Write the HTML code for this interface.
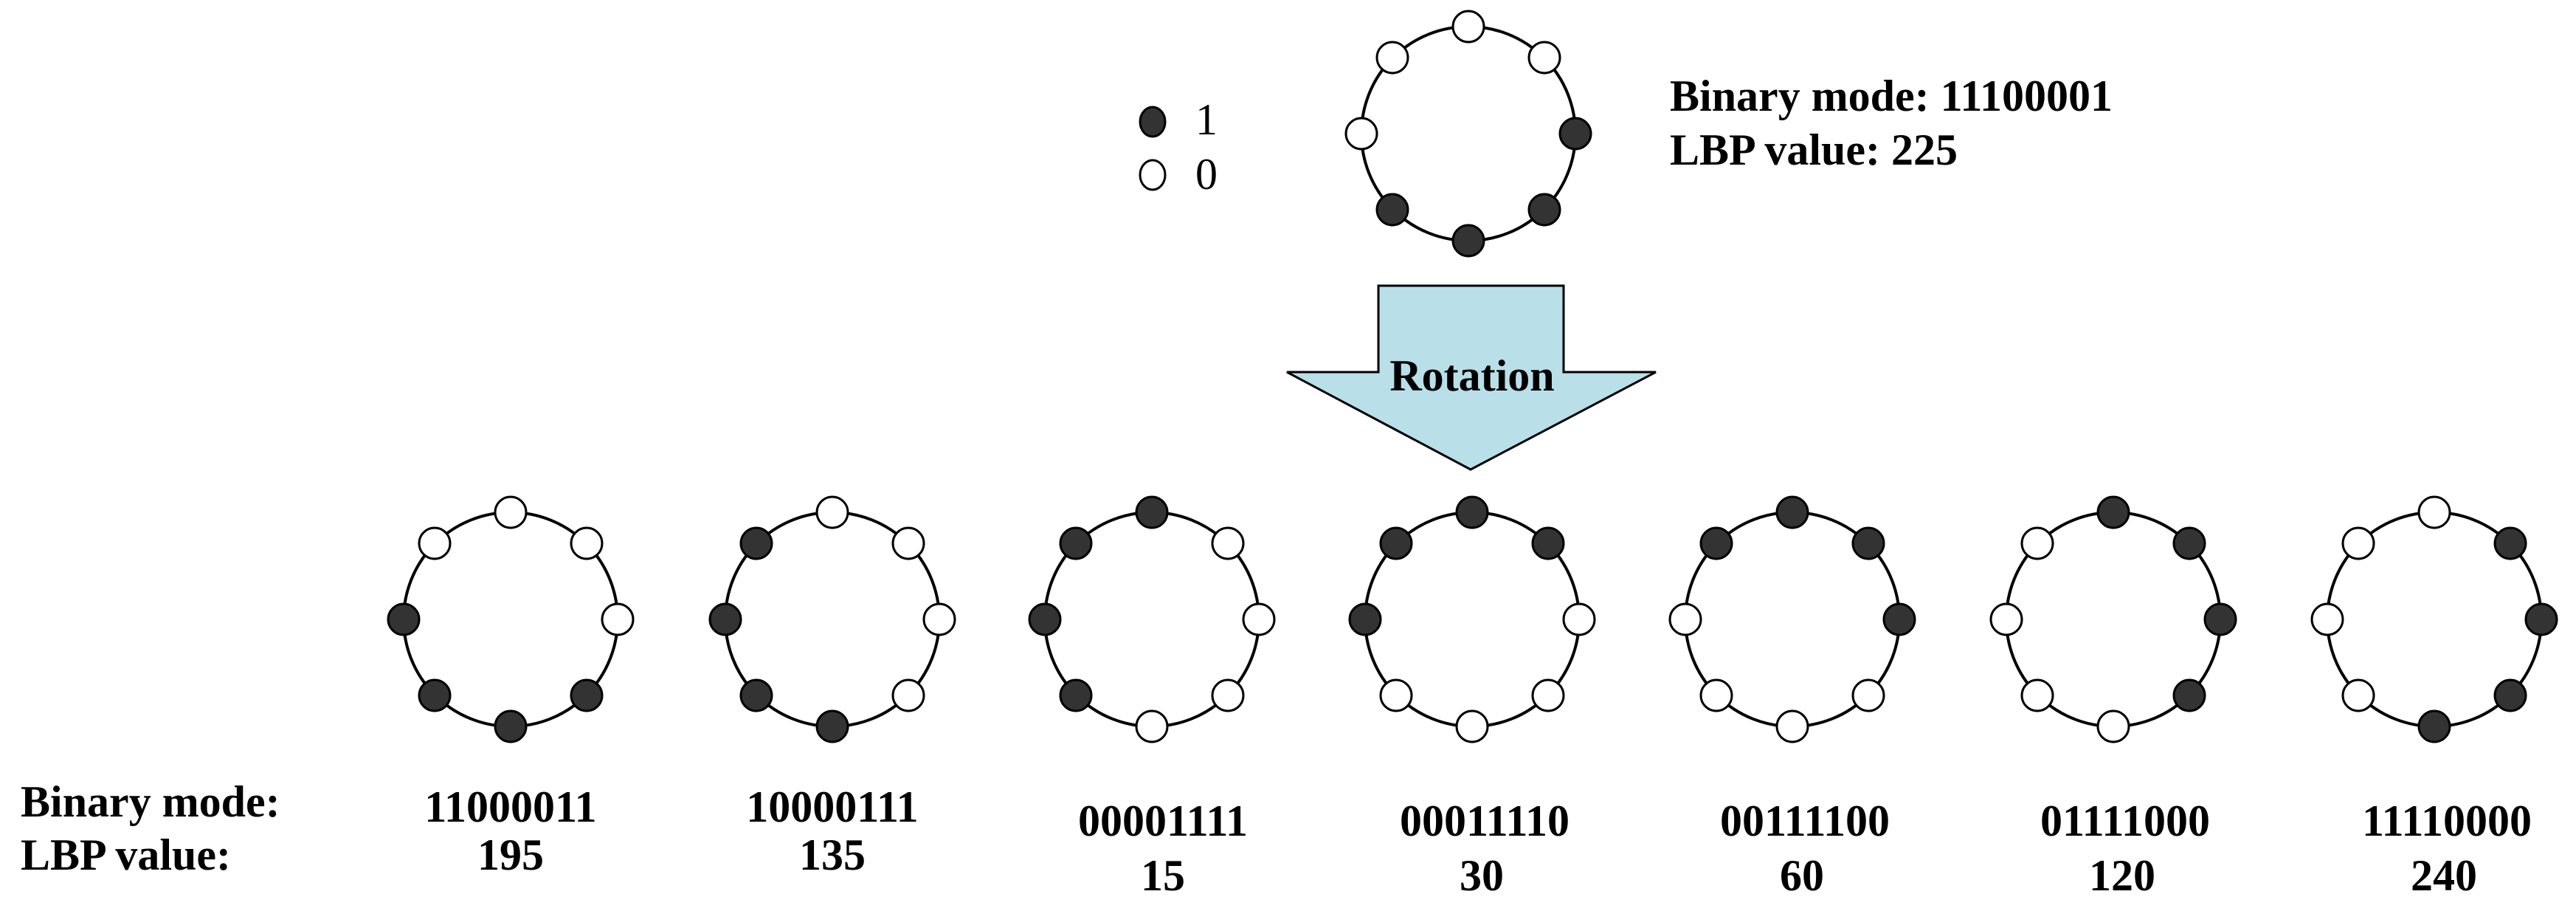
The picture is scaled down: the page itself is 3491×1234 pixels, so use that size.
<!DOCTYPE html>
<html><head><meta charset="utf-8"><style>
html,body{margin:0;padding:0;background:#fff;}
svg{display:block;}
text{font-family:"Liberation Serif",serif;font-weight:bold;fill:#000;}
</style></head><body>
<svg width="3491" height="1234" viewBox="0 0 3491 1234" xmlns="http://www.w3.org/2000/svg">
<g id="all" stroke="#000">
</g>
<!-- legend -->
<ellipse cx="1562" cy="165" rx="17" ry="20" fill="#333" stroke="#000" stroke-width="3"/>
<ellipse cx="1562" cy="237" rx="17" ry="20" fill="#fff" stroke="#000" stroke-width="3"/>
<text x="1620" y="182" font-size="60" style="font-weight:normal">1</text>
<text x="1620" y="256" font-size="60" style="font-weight:normal">0</text>
<text x="2263" y="150" font-size="60">Binary mode: 11100001</text>
<text x="2263" y="223" font-size="60">LBP value: 225</text>
<!-- arrow -->
<polygon points="1868,387 2119,387 2119,504 2244,504 1993,636 1744,504 1868,504" fill="#b9dfe9" stroke="#000" stroke-width="3"/>
<text x="1995" y="529" font-size="60" text-anchor="middle">Rotation</text>
<!-- bottom labels -->
<text x="28" y="1106" font-size="60">Binary mode:</text>
<text x="28" y="1178" font-size="60">LBP value:</text>
<text x="692" y="1113" font-size="60" text-anchor="middle">11000011</text>
<text x="692" y="1178" font-size="60" text-anchor="middle">195</text>
<text x="1128" y="1113" font-size="60" text-anchor="middle">10000111</text>
<text x="1128" y="1178" font-size="60" text-anchor="middle">135</text>
<text x="1576" y="1132" font-size="60" text-anchor="middle">00001111</text>
<text x="1576" y="1206" font-size="60" text-anchor="middle">15</text>
<text x="2012" y="1132" font-size="60" text-anchor="middle">00011110</text>
<text x="2008" y="1206" font-size="60" text-anchor="middle">30</text>
<text x="2446" y="1132" font-size="60" text-anchor="middle">00111100</text>
<text x="2442" y="1206" font-size="60" text-anchor="middle">60</text>
<text x="2880" y="1132" font-size="60" text-anchor="middle">01111000</text>
<text x="2876" y="1206" font-size="60" text-anchor="middle">120</text>
<text x="3316" y="1132" font-size="60" text-anchor="middle">11110000</text>
<text x="3312" y="1206" font-size="60" text-anchor="middle">240</text>

<!-- rings: order T,TR,R,BR,B,BL,L,TL -->
<g stroke="#000" stroke-width="4" fill="none">
<circle cx="1990" cy="181" r="145"/>
<circle cx="692" cy="839" r="145"/>
<circle cx="1128" cy="839" r="145"/>
<circle cx="1561" cy="839" r="145"/>
<circle cx="1995" cy="839" r="145"/>
<circle cx="2429" cy="839" r="145"/>
<circle cx="2864" cy="839" r="145"/>
<circle cx="3299" cy="839" r="145"/>
</g>
<g stroke="#000" stroke-width="3">
<!-- top: 0,0,1,1,1,1,0,0 -->
<circle cx="1990" cy="36" r="21" fill="#fff"/><circle cx="2093" cy="78" r="21" fill="#fff"/><circle cx="2135" cy="181" r="21" fill="#333"/><circle cx="2093" cy="284" r="21" fill="#333"/><circle cx="1990" cy="326" r="21" fill="#333"/><circle cx="1887" cy="284" r="21" fill="#333"/><circle cx="1845" cy="181" r="21" fill="#fff"/><circle cx="1887" cy="78" r="21" fill="#fff"/>
<!-- c1: 0,0,0,1,1,1,1,0 -->
<circle cx="692" cy="694" r="21" fill="#fff"/><circle cx="795" cy="736" r="21" fill="#fff"/><circle cx="837" cy="839" r="21" fill="#fff"/><circle cx="795" cy="942" r="21" fill="#333"/><circle cx="692" cy="984" r="21" fill="#333"/><circle cx="589" cy="942" r="21" fill="#333"/><circle cx="547" cy="839" r="21" fill="#333"/><circle cx="589" cy="736" r="21" fill="#fff"/>
<!-- c2: 0,0,0,0,1,1,1,1 -->
<circle cx="1128" cy="694" r="21" fill="#fff"/><circle cx="1231" cy="736" r="21" fill="#fff"/><circle cx="1273" cy="839" r="21" fill="#fff"/><circle cx="1231" cy="942" r="21" fill="#fff"/><circle cx="1128" cy="984" r="21" fill="#333"/><circle cx="1025" cy="942" r="21" fill="#333"/><circle cx="983" cy="839" r="21" fill="#333"/><circle cx="1025" cy="736" r="21" fill="#333"/>
<!-- c3: 1,0,0,0,0,1,1,1 -->
<circle cx="1561" cy="694" r="21" fill="#333"/><circle cx="1664" cy="736" r="21" fill="#fff"/><circle cx="1706" cy="839" r="21" fill="#fff"/><circle cx="1664" cy="942" r="21" fill="#fff"/><circle cx="1561" cy="984" r="21" fill="#fff"/><circle cx="1458" cy="942" r="21" fill="#333"/><circle cx="1416" cy="839" r="21" fill="#333"/><circle cx="1458" cy="736" r="21" fill="#333"/>
<!-- c4: 1,1,0,0,0,0,1,1 -->
<circle cx="1995" cy="694" r="21" fill="#333"/><circle cx="2098" cy="736" r="21" fill="#333"/><circle cx="2140" cy="839" r="21" fill="#fff"/><circle cx="2098" cy="942" r="21" fill="#fff"/><circle cx="1995" cy="984" r="21" fill="#fff"/><circle cx="1892" cy="942" r="21" fill="#fff"/><circle cx="1850" cy="839" r="21" fill="#333"/><circle cx="1892" cy="736" r="21" fill="#333"/>
<!-- c5: 1,1,1,0,0,0,0,1 -->
<circle cx="2429" cy="694" r="21" fill="#333"/><circle cx="2532" cy="736" r="21" fill="#333"/><circle cx="2574" cy="839" r="21" fill="#333"/><circle cx="2532" cy="942" r="21" fill="#fff"/><circle cx="2429" cy="984" r="21" fill="#fff"/><circle cx="2326" cy="942" r="21" fill="#fff"/><circle cx="2284" cy="839" r="21" fill="#fff"/><circle cx="2326" cy="736" r="21" fill="#333"/>
<!-- c6: 1,1,1,1,0,0,0,0 -->
<circle cx="2864" cy="694" r="21" fill="#333"/><circle cx="2967" cy="736" r="21" fill="#333"/><circle cx="3009" cy="839" r="21" fill="#333"/><circle cx="2967" cy="942" r="21" fill="#333"/><circle cx="2864" cy="984" r="21" fill="#fff"/><circle cx="2761" cy="942" r="21" fill="#fff"/><circle cx="2719" cy="839" r="21" fill="#fff"/><circle cx="2761" cy="736" r="21" fill="#fff"/>
<!-- c7: 0,1,1,1,1,0,0,0 -->
<circle cx="3299" cy="694" r="21" fill="#fff"/><circle cx="3402" cy="736" r="21" fill="#333"/><circle cx="3444" cy="839" r="21" fill="#333"/><circle cx="3402" cy="942" r="21" fill="#333"/><circle cx="3299" cy="984" r="21" fill="#333"/><circle cx="3196" cy="942" r="21" fill="#fff"/><circle cx="3154" cy="839" r="21" fill="#fff"/><circle cx="3196" cy="736" r="21" fill="#fff"/>
</g>
</svg>
</body></html>
